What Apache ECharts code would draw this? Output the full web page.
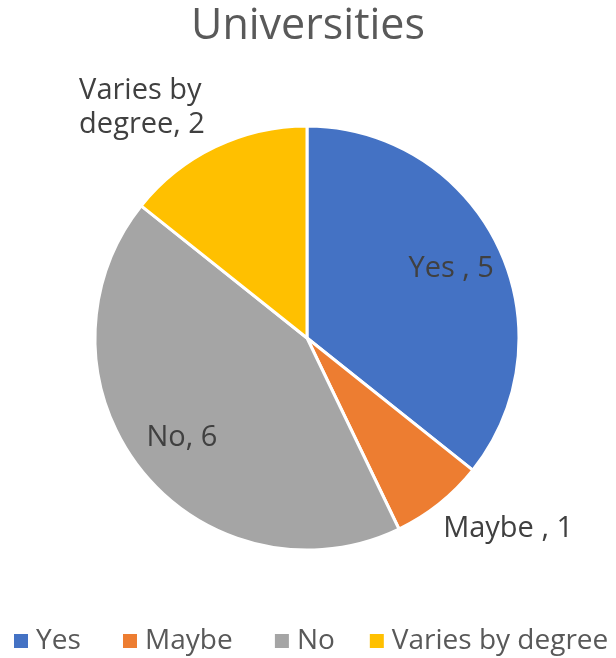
<!DOCTYPE html>
<html>
<head>
<meta charset="utf-8">
<script src="https://cdn.jsdelivr.net/npm/echarts@6/dist/echarts.min.js"></script>
<style>html,body{margin:0;padding:0;background:#fff;}#c{width:616px;height:658px;}</style>
</head>
<body>
<div id="c"></div>
<script>
const categories = ['Yes ', 'Maybe ', 'No', 'Varies by degree'];
const values = [5, 1, 6, 2];
const colors = ['#4472C4', '#ED7D31', '#A5A5A5', '#FFC000'];
const insideLabel = [true, false, true, false];

const FONT = 'Open Sans';
const chart = echarts.init(document.getElementById('c'));

const mainData = categories.map((name, i) => {
  const d = { name: name, value: values[i], itemStyle: { color: colors[i] } };
  if (insideLabel[i]) {
    d.label = { show: false };
  } else if (i === 1) {
    d.label = { show: true, distanceToLabelLine: -16 };
    d.labelLine = { show: false, length: 32, length2: 0 };
  } else {
    d.label = {
      show: true, distanceToLabelLine: -9,
      formatter: p => '{t|' + p.name.replace('by ', 'by}\n{t|') + ', ' + p.value + '}',
      rich: { t: { align: 'left', fontFamily: FONT, fontSize: 29, color: '#404040', lineHeight: 34 } }
    };
    d.labelLine = { show: false, length: 44, length2: 0 };
  }
  return d;
});

const overlayData = categories.map((name, i) => ({
  name: name, value: values[i],
  itemStyle: { color: 'rgba(0,0,0,0)' },
  label: { show: insideLabel[i] }
}));

chart.setOption({
  animation: false,
  title: {
    text: 'Universities', left: 'center', top: 0,
    textStyle: { fontFamily: FONT, fontSize: 43, fontWeight: 'normal', color: '#595959' }
  },
  legend: {
    data: categories, top: 627, left: 12, width: 800, padding: 0,
    itemWidth: 16, itemHeight: 16, itemGap: 33, icon: 'rect',
    textStyle: { fontFamily: FONT, fontSize: 28, color: '#595959', padding: [0, 0, 0, 2] }
  },
  series: [
    {
      type: 'pie', center: [307, 338], radius: 212, startAngle: 90, clockwise: true,
      avoidLabelOverlap: false,
      itemStyle: { borderColor: '#fff', borderWidth: 3 },
      label: { position: 'outside', formatter: '{b}, {c}', fontFamily: FONT, fontSize: 29, color: '#404040' },
      labelLine: { show: false },
      emphasis: { disabled: true },
      data: mainData
    },
    {
      type: 'pie', center: [307, 338], radius: [102, 212], startAngle: 90, clockwise: true,
      avoidLabelOverlap: false, silent: true, legendHoverLink: false,
      label: { position: 'inside', formatter: '{b}, {c}', fontFamily: FONT, fontSize: 29, color: '#404040' },
      labelLine: { show: false },
      emphasis: { disabled: true },
      data: overlayData
    }
  ]
});
</script>
</body>
</html>
